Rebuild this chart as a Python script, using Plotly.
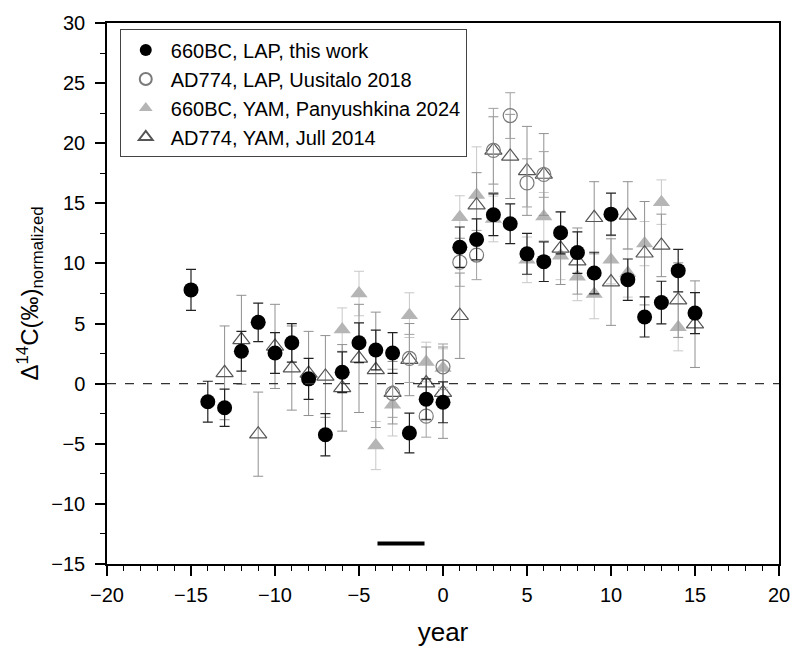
import plotly.graph_objects as go

# 660BC, LAP, this work
lap660_x = list(range(-15, 16))
lap660_y = [7.8, -1.5, -2.0, 2.7, 5.1, 2.55, 3.4, 0.4, -4.25, 0.95, 3.4, 2.8, 2.55, -4.1, -1.3, -1.55,
            11.35, 12.0, 14.05, 13.3, 10.8, 10.15, 12.55, 10.9, 9.2, 14.1, 8.65, 5.55, 6.75, 9.4, 5.87]
lap660_e = [1.7, 1.7, 1.55, 1.65, 1.6, 1.7, 1.6, 1.7, 1.75, 1.7, 1.65, 1.65, 1.7, 1.65, 1.7, 1.7,
            1.68, 1.7, 1.73, 1.65, 1.7, 1.65, 1.75, 1.72, 1.73, 1.75, 1.72, 1.67, 1.77, 1.77, 1.7]

# AD774, LAP, Uusitalo 2018
lap774_x = list(range(-3, 7))
lap774_y = [-0.8, 2.1, -2.7, 1.4, 10.1, 10.7, 19.4, 22.3, 16.7, 17.4]
lap774_e = [2.0, 2.0, 1.75, 1.9, 2.0, 2.05, 3.5, 1.9, 2.0, 1.9]

# 660BC, YAM, Panyushkina 2024
yam660_x = [-6, -5, -4, -3, -2, -1, 0, 1, 2, 3, 5, 6, 7, 8, 9, 10, 11, 12, 13, 14]
yam660_y = [4.5, 7.5, -5.15, -1.75, 5.7, 1.8, 1.3, 13.85, 15.7, 13.7, 10.3, 13.9, 10.65, 8.9, 7.45,
            10.3, 9.2, 11.65, 15.1, 4.7]
yam660_e = [1.8, 1.85, 2.0, 2.6, 1.86, 1.65, 1.6, 1.78, 4.0, 1.9, 1.9, 2.0, 2.0, 2.0, 2.05,
            2.0, 2.0, 1.84, 1.85, 1.97]

# AD774, YAM, Jull 2014
yam774_x = list(range(-13, 16))
yam774_y = [0.9, 3.65, -4.2, 3.1, 1.3, 0.85, 0.6, -0.35, 2.1, 1.15, -0.75, 2.0, 0.05, -0.75,
            5.65, 14.85, 19.4, 18.9, 17.7, 17.4, 11.25, 10.2, 13.8, 8.45, 14.0, 10.85, 11.5, 6.95, 4.95]
yam774_e = [3.9, 3.7, 3.5, 3.5, 3.5, 3.5, 3.4, 3.6, 4.5, 4.8, 2.6, 3.0, 3.0, 3.8,
            3.55, 2.7, 2.8, 3.5, 3.7, 3.4, 3.0, 2.75, 3.0, 3.6, 2.8, 4.3, 2.6, 3.1, 3.6]

# marker of the event year range
event_x = [-3.9, -1.1]
event_y = [-13.3, -13.3]

FONT = "Liberation Sans, Arial"

fig = go.Figure()

fig.add_trace(go.Scatter(
    x=yam660_x, y=yam660_y, mode="markers", name="660BC, YAM, Panyushkina 2024", legendrank=3,
    marker=dict(symbol="triangle-up", size=15, color="#b5b5b5", line=dict(width=0)),
    error_y=dict(type="data", array=yam660_e, color="#c8c8c8", thickness=1, width=5)))
fig.add_trace(go.Scatter(
    x=yam774_x, y=yam774_y, mode="markers", name="AD774, YAM, Jull 2014", legendrank=4,
    marker=dict(symbol="triangle-up-open", size=15, color="#555555", line=dict(width=1.2)),
    error_y=dict(type="data", array=yam774_e, color="#909090", thickness=1, width=5)))
fig.add_trace(go.Scatter(
    x=lap774_x, y=lap774_y, mode="markers", name="AD774, LAP, Uusitalo 2018", legendrank=2,
    marker=dict(symbol="circle-open", size=14, color="#7a7a7a", line=dict(width=1.2)),
    error_y=dict(type="data", array=lap774_e, color="#a0a0a0", thickness=1, width=5)))
fig.add_trace(go.Scatter(
    x=lap660_x, y=lap660_y, mode="markers", name="660BC, LAP, this work", legendrank=1,
    marker=dict(symbol="circle", size=15, color="black", line=dict(width=0)),
    error_y=dict(type="data", array=lap660_e, color="#222222", thickness=1.2, width=5)))
fig.add_trace(go.Scatter(
    x=event_x, y=event_y, mode="lines", showlegend=False, hoverinfo="skip",
    line=dict(color="black", width=4)))

fig.add_hline(y=0, line=dict(color="#333333", width=1.2, dash="dash"))

axis_common = dict(
    showline=True, linecolor="black", linewidth=1.5, mirror=True,
    ticks="outside", ticklen=10, tickwidth=1.5, tickcolor="black",
    showgrid=False, zeroline=False,
    tickfont=dict(family=FONT, size=20, color="black"),
)

fig.update_xaxes(
    range=[-20, 20], dtick=5, tick0=-20, ticklabelstandoff=2,
    minor=dict(ticks="outside", ticklen=5, tickwidth=1.2, tickcolor="black", dtick=1, showgrid=False),
    title=dict(text="year", font=dict(family=FONT, size=26, color="black"), standoff=18),
    **axis_common)
fig.update_yaxes(
    range=[-15, 30], dtick=5, tick0=-15, ticklabelstandoff=6,
    minor=dict(ticks="outside", ticklen=5, tickwidth=1.2, tickcolor="black", dtick=2.5, showgrid=False),
    title=dict(text="Δ<sup>14</sup>C(‰)<sub>normalized</sub>",
               font=dict(family=FONT, size=24, color="black"), standoff=6),
    **axis_common)

fig.update_layout(
    width=802, height=654,
    margin=dict(l=107, r=15, t=18, b=87),
    plot_bgcolor="white", paper_bgcolor="white",
    font=dict(family=FONT, color="black"),
    legend=dict(x=0.019, y=0.988, xanchor="left", yanchor="top",
                bgcolor="white", bordercolor="#444444", borderwidth=1,
                font=dict(family=FONT, size=20, color="black"),
                itemsizing="constant", itemwidth=40, tracegroupgap=0),
    showlegend=True,
)

fig.write_html("out.html")
